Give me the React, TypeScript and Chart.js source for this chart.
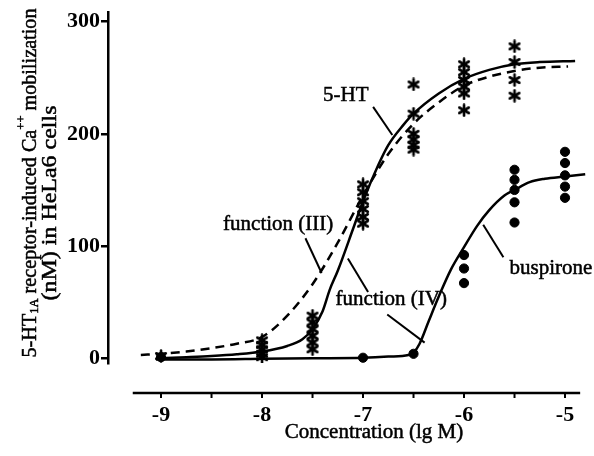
import React, { useEffect, useRef } from 'react';
import { Chart, registerables } from 'chart.js';
Chart.register(...registerables);

const FONT = '"Liberation Serif", "Times New Roman", serif';

// axis ticks
const X_TICKS = [-9, -8, -7, -6, -5];
const X_MINOR = [-9, -8.5, -8, -7.5, -7, -6.5, -6, -5.5, -5];
const Y_TICKS = [0, 100, 200, 300];
const X_MIN = -9.525;
const X_MAX = -4.713;
const Y_MIN = -4.2;
const Y_MAX = 308.6;
const X_AXIS_FROM = -9.28;
const X_AXIS_TO = -4.85;

// 5-HT replicate responses (asterisks)
const HT_DOSES = [-9, -8, -7.5, -7, -6.5, -6, -5.5];
const HT_VALUES = [
  [2],
  [16, 12, 8, 4, 1],
  [38, 32, 26, 20, 14, 8],
  [155, 148, 140, 133, 126, 120],
  [244, 218, 200, 195, 190, 186],
  [262, 255, 248, 242, 236, 221],
  [278, 264, 248, 234],
];

// buspirone replicate responses (circles)
const BUS_DOSES = [-9, -7, -6.5, -6, -5.5, -5];
const BUS_VALUES = [
  [1],
  [0.5],
  [4],
  [92, 80, 67],
  [168, 159, 150, 139, 121],
  [184, 174, 163, 153, 143],
];

// fitted curves
const HT_FIT_X = [-9.05, -8.75, -8.5, -8.25, -8, -7.75, -7.6, -7.5, -7.4, -7.33, -7.25, -7.1, -7, -6.85, -6.75, -6.6, -6.5, -6.25, -6, -5.75, -5.5, -5.25, -4.9];
const HT_FIT_Y = [0, 1, 2, 3.5, 6, 11, 17, 26, 42, 61, 78, 115, 140, 172, 190, 208, 218, 236, 249, 257, 262, 264, 265];

const F3_FIT_X = [-9.2, -9, -8.75, -8.5, -8.25, -8, -7.75, -7.5, -7.25, -7, -6.75, -6.5, -6.25, -6, -5.75, -5.5, -5.25, -4.97];
const F3_FIT_Y = [3, 4, 6, 9, 13, 19, 38, 66, 103, 145, 182, 209, 228, 243, 251, 256, 259, 260];

const BUS_FIT_X = [-9.05, -8.5, -8, -7.5, -7, -6.75, -6.55, -6.5, -6.44, -6.35, -6.25, -6.13, -6, -5.87, -5.75, -5.6, -5.5, -5.35, -5.2, -5, -4.8];
const BUS_FIT_Y = [-1, -1, -0.5, 0, 0.5, 1.5, 3, 5, 13, 33, 55, 79, 99, 118, 132, 145, 150, 157, 160, 162, 164];

// annotations (data coordinates)
const LABELS = ['5-HT', 'function (III)', 'function (IV)', 'buspirone'];
const LABEL_X = [-7.17, -7.84, -6.72, -5.14];
const LABEL_Y = [234, 119, 52, 80];
const LEADERS = [
  [-6.9, 224, -6.71, 199],
  [-7.57, 107, -7.41, 76],
  [-7.15, 89, -6.95, 59],
  [-6.76, 39, -6.39, 14],
  [-5.81, 119, -5.61, 90],
];

const X_TITLE = 'Concentration (lg M)';
const Y_TITLE_1 = [
  { t: '5-HT', k: 'n' },
  { t: '1A', k: 'sub' },
  { t: ' receptor-induced Ca', k: 'n' },
  { t: '++', k: 'sup' },
  { t: ' mobilization', k: 'n' },
];
const Y_TITLE_2 = [{ t: '(nM) in HeLa6 cells', k: 'n' }];

const toPts = (doses: number[], vals: number[][]) =>
  doses.flatMap((d, i) => vals[i].map((v) => ({ x: d, y: v })));
const zip = (xs: number[], ys: number[]) => xs.map((x, i) => ({ x, y: ys[i] }));

function makeAsterisk(): HTMLCanvasElement {
  const c = document.createElement('canvas');
  c.width = 14;
  c.height = 14;
  const g = c.getContext('2d')!;
  g.strokeStyle = '#000';
  g.lineWidth = 2.6;
  g.lineCap = 'round';
  g.translate(7, 7);
  for (let i = 0; i < 3; i++) {
    const a = (Math.PI / 3) * i + Math.PI / 2;
    g.beginPath();
    g.moveTo(Math.cos(a) * 5.5, Math.sin(a) * 5.5);
    g.lineTo(-Math.cos(a) * 5.5, -Math.sin(a) * 5.5);
    g.stroke();
  }
  g.beginPath();
  g.arc(0, 0, 2.2, 0, Math.PI * 2);
  g.fillStyle = '#000';
  g.fill();
  return c;
}

function heavyText(ctx: CanvasRenderingContext2D, t: string, x: number, y: number) {
  ctx.fillText(t, x, y);
  ctx.lineWidth = 0.5;
  ctx.strokeText(t, x, y);
}

function drawRich(ctx: CanvasRenderingContext2D, segs: { t: string; k: string }[], cx: number, cy: number, len: number) {
  const size = 21;
  const small = 13;
  const fontFor = (k: string) => `${k === 'n' ? size : small}px ${FONT}`;
  let total = 0;
  const widths = segs.map((s) => {
    ctx.font = fontFor(s.k);
    const w = ctx.measureText(s.t).width;
    total += w;
    return w;
  });
  ctx.save();
  ctx.translate(cx, cy);
  ctx.rotate(-Math.PI / 2);
  ctx.scale(len / total, 1);
  ctx.textBaseline = 'middle';
  ctx.textAlign = 'left';
  ctx.fillStyle = '#000';
  ctx.strokeStyle = '#000';
  let x = -total / 2;
  segs.forEach((s, i) => {
    ctx.font = fontFor(s.k);
    const dy = s.k === 'sub' ? 5 : s.k === 'sup' ? -8 : 0;
    heavyText(ctx, s.t, x, dy);
    x += widths[i];
  });
  ctx.restore();
}

const overlay = {
  id: 'overlay',
  afterDraw(chart: any) {
    const { ctx, chartArea } = chart;
    const xs = chart.scales.x;
    const ys = chart.scales.y;
    ctx.save();
    ctx.strokeStyle = '#000';
    ctx.fillStyle = '#000';
    // detached x axis
    const ay = chartArea.bottom + 30;
    ctx.lineWidth = 2.5;
    ctx.beginPath();
    ctx.moveTo(xs.getPixelForValue(X_AXIS_FROM), ay);
    ctx.lineTo(xs.getPixelForValue(X_AXIS_TO), ay);
    ctx.stroke();
    ctx.lineWidth = 2;
    X_MINOR.forEach((v) => {
      const px = xs.getPixelForValue(v);
      ctx.beginPath();
      ctx.moveTo(px, ay);
      ctx.lineTo(px, ay + 5);
      ctx.stroke();
    });
    // leader lines
    ctx.lineWidth = 2;
    LEADERS.forEach(([x1, y1, x2, y2]) => {
      ctx.beginPath();
      ctx.moveTo(xs.getPixelForValue(x1), ys.getPixelForValue(y1));
      ctx.lineTo(xs.getPixelForValue(x2), ys.getPixelForValue(y2));
      ctx.stroke();
    });
    // labels
    ctx.font = `21px ${FONT}`;
    ctx.textAlign = 'center';
    ctx.textBaseline = 'middle';
    LABELS.forEach((t, i) => {
      heavyText(ctx, t, xs.getPixelForValue(LABEL_X[i]), ys.getPixelForValue(LABEL_Y[i]));
    });
    // x title
    heavyText(ctx, X_TITLE, xs.getPixelForValue(-7) + 11, chartArea.bottom + 69);
    ctx.restore();
    // y title
    drawRich(ctx, Y_TITLE_1, 30, 183, 349);
    drawRich(ctx, Y_TITLE_2, 50, 203, 195);
  },
};

export default function App() {
  const ref = useRef<HTMLCanvasElement>(null);
  useEffect(() => {
    document.body.style.margin = '0';
    const asterisk = makeAsterisk();
    const chart = new Chart(ref.current!, {
      type: 'scatter',
      data: {
        datasets: [
          {
            data: zip(BUS_FIT_X, BUS_FIT_Y),
            showLine: true,
            borderColor: '#000',
            borderWidth: 2.5,
            pointRadius: 0,
            cubicInterpolationMode: 'monotone',
          },
          {
            data: zip(HT_FIT_X, HT_FIT_Y),
            showLine: true,
            borderColor: '#000',
            borderWidth: 2.5,
            pointRadius: 0,
            cubicInterpolationMode: 'monotone',
          },
          {
            data: zip(F3_FIT_X, F3_FIT_Y),
            showLine: true,
            borderColor: '#000',
            borderWidth: 2.5,
            borderDash: [9, 6],
            pointRadius: 0,
            cubicInterpolationMode: 'monotone',
          },
          {
            data: toPts(BUS_DOSES, BUS_VALUES),
            pointStyle: 'circle',
            pointRadius: 4.6,
            backgroundColor: '#000',
            borderColor: '#000',
            borderWidth: 1,
          },
          {
            data: toPts(HT_DOSES, HT_VALUES),
            pointStyle: asterisk,
            pointRadius: 6,
          },
        ],
      } as any,
      options: {
        animation: false,
        responsive: false,
        devicePixelRatio: 1,
        layout: { autoPadding: false, padding: { top: 12, right: 0, left: 0, bottom: 0 } },
        plugins: { legend: { display: false }, tooltip: { enabled: false } },
        scales: {
          x: {
            type: 'linear',
            min: X_MIN,
            max: X_MAX,
            afterBuildTicks: (s: any) => {
              s.ticks = X_TICKS.map((v) => ({ value: v }));
            },
            afterFit: (s: any) => {
              s.height = 93;
              s.paddingLeft = 0;
              s.paddingRight = 0;
            },
            grid: { display: false, drawTicks: false },
            border: { display: false },
            ticks: {
              color: '#000',
              padding: 39,
              maxRotation: 0,
              font: { family: FONT, size: 22, weight: 'bold' },
            },
          },
          y: {
            type: 'linear',
            min: Y_MIN,
            max: Y_MAX,
            afterBuildTicks: (s: any) => {
              s.ticks = Y_TICKS.map((v) => ({ value: v }));
            },
            afterFit: (s: any) => {
              s.width = 108;
              s.paddingTop = 0;
              s.paddingBottom = 0;
            },
            grid: { drawOnChartArea: false, drawTicks: true, tickLength: 7, color: '#000', lineWidth: 2.5 },
            border: { display: true, color: '#000', width: 2.5 },
            ticks: {
              color: '#000',
              padding: 1,
              font: { family: FONT, size: 22, weight: 'bold' },
            },
          },
        },
      } as any,
      plugins: [overlay],
    });
    let alive = true;
    const fonts = (document as any).fonts;
    if (fonts && fonts.load) {
      Promise.all([
        fonts.load(`21px "Liberation Serif"`),
        fonts.load(`bold 22px "Liberation Serif"`),
        fonts.load(`13px "Liberation Serif"`),
      ])
        .then(() => {
          if (alive) chart.update();
        })
        .catch(() => {});
    }
    return () => {
      alive = false;
      chart.destroy();
    };
  }, []);
  return (
    <div style={{ position: 'absolute', left: 0, top: 0, width: 594, height: 456 }}>
      <canvas ref={ref} width={594} height={456} />
    </div>
  );
}
